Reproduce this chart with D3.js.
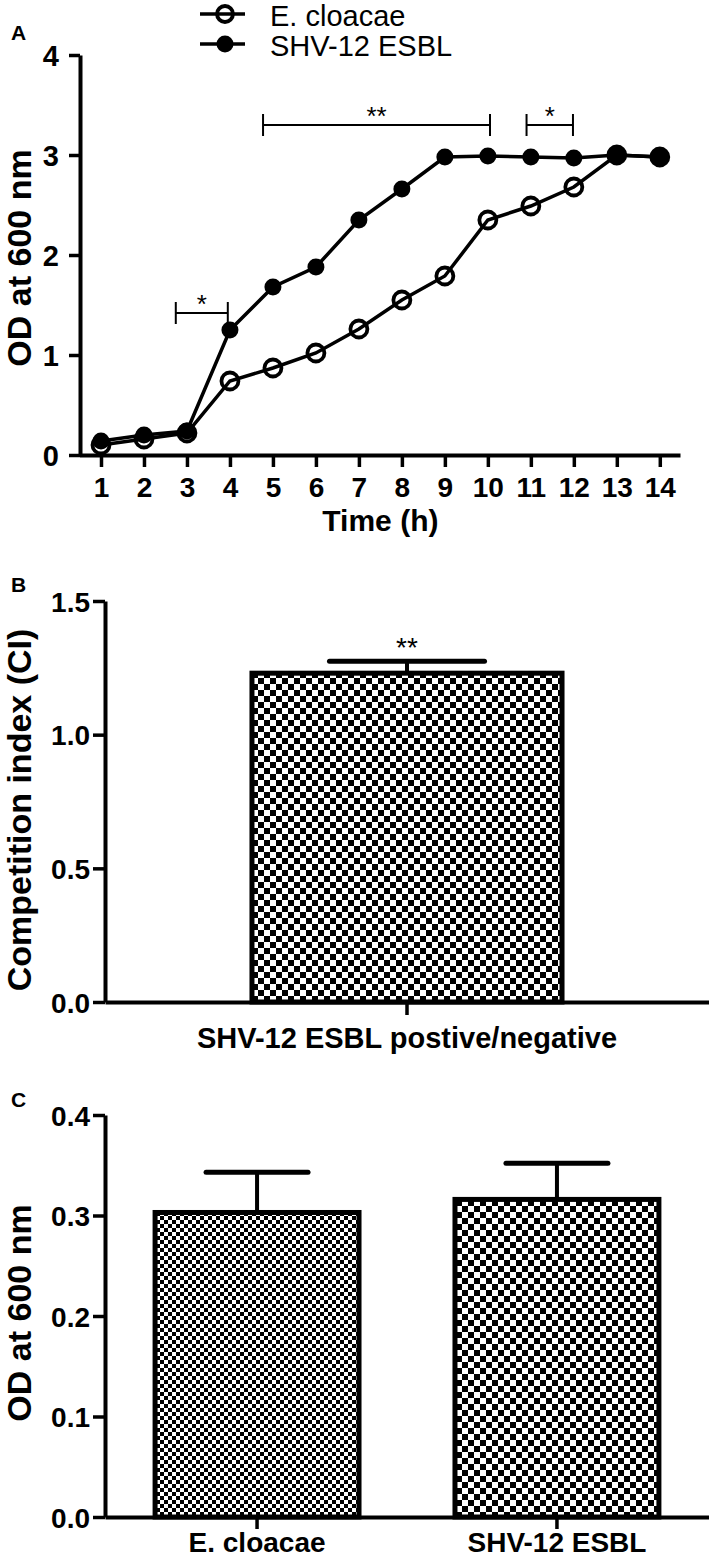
<!DOCTYPE html>
<html><head><meta charset="utf-8">
<script src="https://cdn.jsdelivr.net/npm/d3@7"></script>
<style>
html,body{margin:0;padding:0;background:#fff;}
svg{display:block;font-family:"Liberation Sans",Arial,Helvetica,sans-serif;}
</style>
</head><body>
<svg id="chart" width="709" height="1563"></svg>
<script>
// ---------- DATA ----------
const timeHours   = [1,2,3,4,5,6,7,8,9,10,11,12,13,14];
const odEcloacae  = [0.10,0.16,0.22,0.74,0.87,1.02,1.26,1.55,1.79,2.35,2.49,2.68,3.00,2.98];
const odSHV12     = [0.14,0.20,0.24,1.25,1.68,1.88,2.35,2.66,2.98,2.99,2.98,2.97,3.00,2.98];
const seriesNames = ["E. cloacae","SHV-12 ESBL"];
const odTicksA    = [0,1,2,3,4];
const sigStart    = [2.74,4.77,10.9];
const sigEnd      = [3.95,10.05,11.98];
const sigLevel    = [1.42,3.30,3.30];
const sigLabel    = ["*","**","*"];

const ciCategories = ["SHV-12 ESBL postive/negative"];
const ciMeans      = [1.23];
const ciErrors     = [0.045];
const ciSigLabel   = ["**"];
const ciTicks      = [0,0.5,1.0,1.5];

const odCategories = ["E. cloacae","SHV-12 ESBL"];
const odMeans      = [0.303,0.316];
const odErrors     = [0.040,0.036];
const odTicksC     = [0,0.1,0.2,0.3,0.4];

// ---------- SETUP ----------
const svg = d3.select("#chart");
const defs = svg.append("defs");
function checker(id, s){
  const p = defs.append("pattern").attr("id",id).attr("patternUnits","userSpaceOnUse")
    .attr("width",2*s).attr("height",2*s);
  p.append("rect").attr("width",2*s).attr("height",2*s).attr("fill","#fff");
  p.append("rect").attr("width",s).attr("height",s).attr("fill","#000");
  p.append("rect").attr("x",s).attr("y",s).attr("width",s).attr("height",s).attr("fill","#000");
}
checker("chkL",6);
checker("chkS",4);

function styleAxis(g, fs){
  g.select(".domain").attr("stroke","#000").attr("stroke-width",4);
  g.selectAll(".tick line").attr("stroke","#000").attr("stroke-width",3.5);
  g.selectAll(".tick text").attr("fill","#000").attr("font-size",fs).attr("font-weight","bold")
    .attr("font-family","'Liberation Sans',Arial,sans-serif");
}
function panelLetter(t,x,y){
  svg.append("text").attr("x",x).attr("y",y).attr("font-size",21).attr("font-weight","bold").text(t);
}
function yLabel(t,x,cy,fs){
  svg.append("text").attr("transform",`translate(${x},${cy}) rotate(-90)`)
    .attr("text-anchor","middle").attr("font-size",fs).attr("font-weight","bold").text(t);
}

// ---------- PANEL A ----------
panelLetter("A",11,40);
const xA = d3.scaleLinear().domain([0.5,14.47]).range([79.5,680]);
const yA = d3.scaleLinear().domain([0,4]).range([455,55]);

const gxA = svg.append("g").attr("transform","translate(0,455)")
  .call(d3.axisBottom(xA).tickValues(timeHours).tickFormat(d3.format("d")).tickSize(12).tickSizeOuter(0).tickPadding(10));
styleAxis(gxA,28);
const gyA = svg.append("g").attr("transform","translate(80,0)")
  .call(d3.axisLeft(yA).tickValues(odTicksA).tickFormat(d3.format("d")).tickSize(11).tickSizeOuter(0).tickPadding(10));
styleAxis(gyA,29);
gyA.selectAll(".tick text").attr("dy","0.36em");

svg.append("text").attr("x",xA(7.5)).attr("y",531).attr("text-anchor","middle")
  .attr("font-size",30).attr("font-weight","bold").text("Time (h)");
yLabel("OD at 600 nm",31,258,34);

const line = d3.line().x((d,i)=>xA(timeHours[i])).y(d=>yA(d));
// open series markers first (no fill), then lines, then filled markers
svg.append("g").selectAll("circle").data(odEcloacae).join("circle")
  .attr("cx",(d,i)=>xA(timeHours[i])).attr("cy",d=>yA(d)).attr("r",8.5)
  .attr("fill","none").attr("stroke","#000").attr("stroke-width",3.8);
svg.append("path").datum(odEcloacae).attr("d",line).attr("fill","none").attr("stroke","#000").attr("stroke-width",3.5);
svg.append("path").datum(odSHV12).attr("d",line).attr("fill","none").attr("stroke","#000").attr("stroke-width",3.5);
svg.append("g").selectAll("circle").data(odSHV12).join("circle")
  .attr("cx",(d,i)=>xA(timeHours[i])).attr("cy",d=>yA(d)).attr("r",8.5).attr("fill","#000");

// significance brackets
const br = svg.append("g").attr("stroke","#000").attr("stroke-width",2).attr("fill","none");
sigLabel.forEach((lab,i)=>{
  const x0=xA(sigStart[i]), x1=xA(sigEnd[i]), y=yA(sigLevel[i]);
  br.append("line").attr("x1",x0).attr("x2",x1).attr("y1",y).attr("y2",y);
  br.append("line").attr("x1",x0).attr("x2",x0).attr("y1",y-11).attr("y2",y+11);
  br.append("line").attr("x1",x1).attr("x2",x1).attr("y1",y-11).attr("y2",y+11);
  svg.append("text").attr("x",(x0+x1)/2).attr("y",y).attr("text-anchor","middle")
    .attr("font-size",26).text(lab);
});

// legend
const lg = svg.append("g");
[0,1].forEach(i=>{
  const ly = i===0?14:44;
  lg.append("line").attr("x1",200).attr("x2",245).attr("y1",ly).attr("y2",ly)
    .attr("stroke","#000").attr("stroke-width",3.5);
  if(i===0){
    lg.append("circle").attr("cx",225).attr("cy",ly).attr("r",8).attr("fill","none")
      .attr("stroke","#000").attr("stroke-width",3.8);
  } else {
    lg.append("circle").attr("cx",225).attr("cy",ly).attr("r",8.5).attr("fill","#000");
  }
  lg.append("text").attr("x",270).attr("y",ly+12).attr("font-size",29).text(seriesNames[i]);
});

// ---------- PANEL B ----------
panelLetter("B",11,592);
const xB = d3.scaleBand().domain(ciCategories).range([105,709]).paddingInner(0).paddingOuter(0.474);
const yB = d3.scaleLinear().domain([0,1.5]).range([1002,601]);

const gB = svg.append("g");
ciCategories.forEach((c,i)=>{
  const cx = xB(c)+xB.bandwidth()/2, hw = xB.bandwidth()/4;
  gB.append("line").attr("x1",cx).attr("x2",cx).attr("y1",yB(ciMeans[i])).attr("y2",yB(ciMeans[i]+ciErrors[i]))
    .attr("stroke","#000").attr("stroke-width",4);
  gB.append("line").attr("x1",cx-hw).attr("x2",cx+hw).attr("y1",yB(ciMeans[i]+ciErrors[i])).attr("y2",yB(ciMeans[i]+ciErrors[i]))
    .attr("stroke","#000").attr("stroke-width",5).attr("stroke-linecap","round");
  gB.append("rect").attr("x",xB(c)).attr("y",yB(ciMeans[i])).attr("width",xB.bandwidth())
    .attr("height",yB(0)-yB(ciMeans[i])).attr("fill","url(#chkL)").attr("stroke","#000").attr("stroke-width",5);
  svg.append("text").attr("x",cx).attr("y",657).attr("text-anchor","middle").attr("font-size",28).text(ciSigLabel[i]);
});
const gxB = svg.append("g").attr("transform","translate(0,1002)")
  .call(d3.axisBottom(xB).tickSize(13).tickSizeOuter(0).tickFormat(()=>""));
styleAxis(gxB,28);
const gyB = svg.append("g").attr("transform","translate(105,0)")
  .call(d3.axisLeft(yB).tickValues(ciTicks).tickFormat(d3.format(".1f")).tickSize(12).tickSizeOuter(0).tickPadding(3));
styleAxis(gyB,28);
gyB.selectAll(".tick text").attr("dy","0.36em");
svg.append("text").attr("x",xB(ciCategories[0])+xB.bandwidth()/2).attr("y",1048).attr("text-anchor","middle")
  .attr("font-size",29).attr("font-weight","bold").text(ciCategories[0]);
yLabel("Competition index (CI)",31,810,34);

// ---------- PANEL C ----------
panelLetter("C",11,1107);
const xC = d3.scaleBand().domain(odCategories).range([105,709]).paddingInner(0.32).paddingOuter(0.167);
const yC = d3.scaleLinear().domain([0,0.4]).range([1517,1115]);
const fills = ["url(#chkS)","url(#chkL)"];
const gC = svg.append("g");
odCategories.forEach((c,i)=>{
  const cx = xC(c)+xC.bandwidth()/2, hw = xC.bandwidth()/4;
  gC.append("line").attr("x1",cx).attr("x2",cx).attr("y1",yC(odMeans[i])).attr("y2",yC(odMeans[i]+odErrors[i]))
    .attr("stroke","#000").attr("stroke-width",4);
  gC.append("line").attr("x1",cx-hw).attr("x2",cx+hw).attr("y1",yC(odMeans[i]+odErrors[i])).attr("y2",yC(odMeans[i]+odErrors[i]))
    .attr("stroke","#000").attr("stroke-width",5).attr("stroke-linecap","round");
  gC.append("rect").attr("x",xC(c)).attr("y",yC(odMeans[i])).attr("width",xC.bandwidth())
    .attr("height",yC(0)-yC(odMeans[i])).attr("fill",fills[i]).attr("stroke","#000").attr("stroke-width",5);
});
const gxC = svg.append("g").attr("transform","translate(0,1517)")
  .call(d3.axisBottom(xC).tickSize(12).tickSizeOuter(0).tickPadding(3));
styleAxis(gxC,28);
gxC.selectAll(".tick text").attr("dy","0.71em");
const gyC = svg.append("g").attr("transform","translate(105,0)")
  .call(d3.axisLeft(yC).tickValues(odTicksC).tickFormat(d3.format(".1f")).tickSize(12).tickSizeOuter(0).tickPadding(3));
styleAxis(gyC,28);
gyC.selectAll(".tick text").attr("dy","0.36em");
yLabel("OD at 600 nm",31,1313,34);
</script>
</body></html>
